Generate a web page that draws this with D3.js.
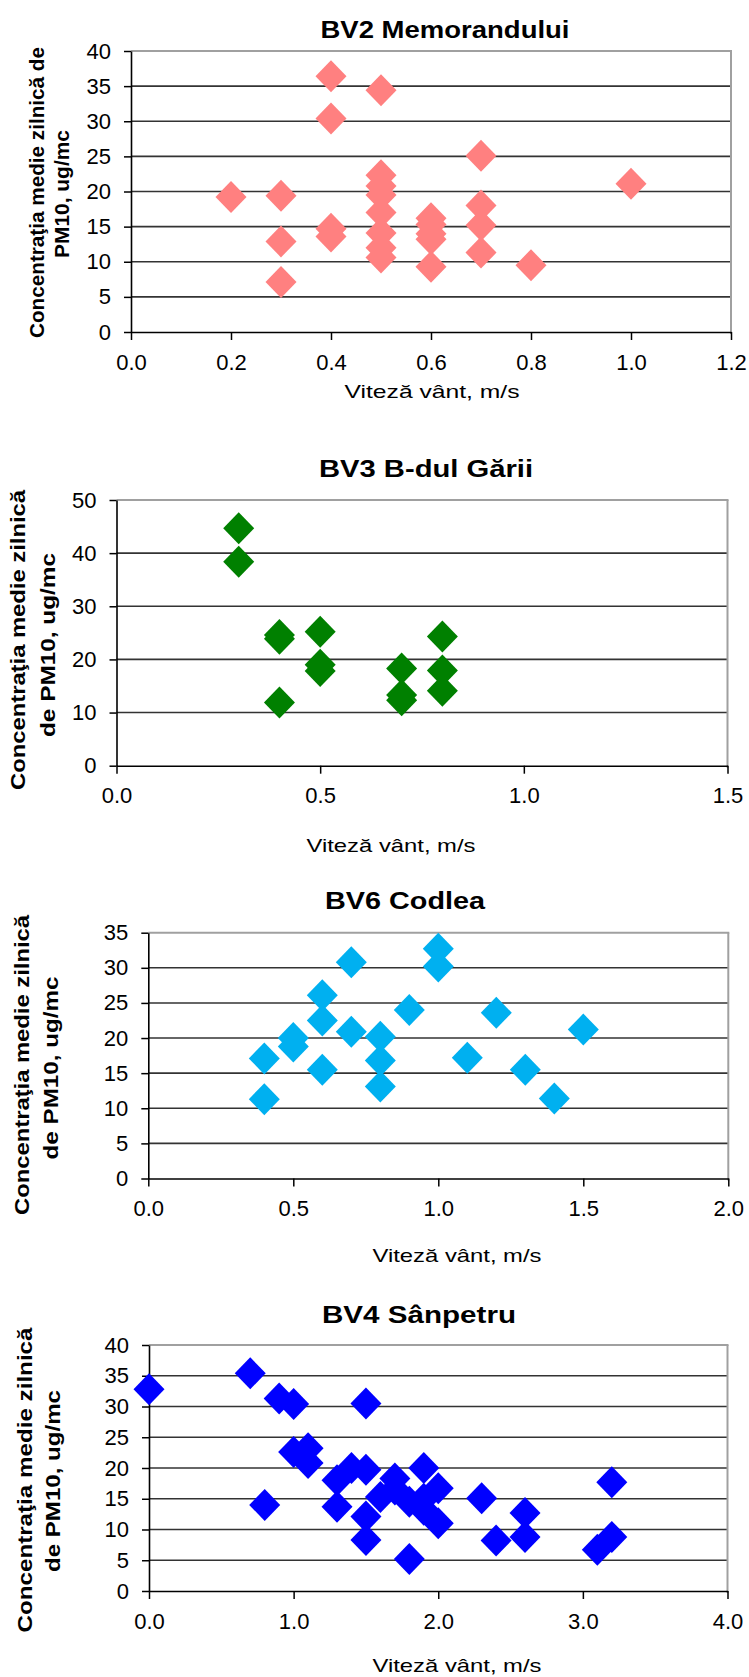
<!DOCTYPE html>
<html><head><meta charset="utf-8">
<script src="https://cdn.jsdelivr.net/npm/d3@7"></script>
<style>
body{margin:0;background:#fff}
svg{display:block;background:#fff}
text{font-family:"Liberation Sans",Arial,Helvetica,sans-serif;fill:#000}
</style>
</head><body>
<svg id="chart" width="749" height="1677"></svg>
<script>
// ---------- DATA ----------
const chartTitles = ["BV2 Memorandului", "BV3 B-dul Gării", "BV6 Codlea", "BV4 Sânpetru"];
const xAxisTitle = "Viteză vânt, m/s";
const yTitleBV2 = ["Concentraţia medie zilnică de", "PM10, ug/mc"];
const yTitleOther = ["Concentraţia medie zilnică", "de PM10, ug/mc"];

// BV2 Memorandului
const bv2Wind = [0.2, 0.3, 0.3, 0.3, 0.4, 0.4, 0.4, 0.4, 0.5, 0.5, 0.5, 0.5, 0.5, 0.5, 0.5, 0.5, 0.6, 0.6, 0.6, 0.6, 0.6, 0.7, 0.7, 0.7, 0.7, 0.8, 1.0];
const bv2PM10 = [19.2, 19.4, 12.9, 7.1, 36.4, 30.4, 14.7, 13.6, 34.4, 22.3, 20.8, 19.5, 17.0, 14.1, 12.0, 10.6, 16.2, 15.3, 14.0, 13.2, 9.3, 25.1, 18.0, 15.2, 11.3, 9.5, 21.1];
const bv2XTicks = [0.0, 0.2, 0.4, 0.6, 0.8, 1.0, 1.2];
const bv2YTicks = [0, 5, 10, 15, 20, 25, 30, 35, 40];

// BV3 B-dul Garii
const bv3Wind = [0.3, 0.3, 0.4, 0.4, 0.4, 0.5, 0.5, 0.5, 0.7, 0.7, 0.7, 0.8, 0.8, 0.8];
const bv3PM10 = [44.7, 38.4, 24.6, 23.9, 11.9, 25.2, 19.0, 17.8, 18.3, 13.3, 12.3, 24.3, 17.9, 14.1];
const bv3XTicks = [0.0, 0.5, 1.0, 1.5];
const bv3YTicks = [0, 10, 20, 30, 40, 50];

// BV6 Codlea
const bv6Wind = [0.4, 0.4, 0.5, 0.5, 0.6, 0.6, 0.6, 0.7, 0.7, 0.8, 0.8, 0.8, 0.9, 1.0, 1.0, 1.1, 1.2, 1.3, 1.4, 1.5];
const bv6PM10 = [17.1, 11.3, 20.0, 18.8, 26.1, 22.5, 15.5, 30.8, 20.9, 20.2, 16.8, 13.1, 24.0, 32.7, 30.2, 17.2, 23.6, 15.5, 11.4, 21.2];
const bv6XTicks = [0.0, 0.5, 1.0, 1.5, 2.0];
const bv6YTicks = [0, 5, 10, 15, 20, 25, 30, 35];

// BV4 Sanpetru
const bv4Wind = [0.0, 0.7, 0.8, 0.9, 1.0, 1.0, 1.1, 1.1, 1.3, 1.3, 1.4, 1.5, 1.5, 1.5, 1.5, 1.6, 1.7, 1.7, 1.8, 1.8, 1.9, 1.9, 1.9, 2.0, 2.0, 2.3, 2.4, 2.6, 2.6, 3.1, 3.2, 3.2];
const bv4PM10 = [32.8, 35.4, 14.0, 31.3, 30.4, 22.6, 23.2, 20.8, 18.0, 13.7, 20.0, 30.5, 19.7, 12.1, 8.3, 15.3, 18.3, 16.5, 14.5, 5.2, 20.0, 15.0, 13.2, 16.7, 11.0, 15.1, 8.2, 12.7, 8.8, 6.7, 17.7, 8.8];
const bv4XTicks = [0.0, 1.0, 2.0, 3.0, 4.0];
const bv4YTicks = [0, 5, 10, 15, 20, 25, 30, 35, 40];

const seriesColors = ["#FF8080", "#008000", "#00B0F0", "#0000FF"];

// ---------- LAYOUT ----------
const panels = [
  { title: chartTitles[0], wind: bv2Wind, pm: bv2PM10, xTicks: bv2XTicks, yTicks: bv2YTicks, color: seriesColors[0],
    box: {l: 131, r: 731, t: 51, b: 332},
    titlePos: {cx: 445, y: 38, len: 249},
    yTitle: [{t: yTitleBV2[0], x: 44, cy: 192.5, len: 291}, {t: yTitleBV2[1], x: 68.5, cy: 194, len: 128}],
    xTitlePos: {cx: 432, y: 398, len: 175} },
  { title: chartTitles[1], wind: bv3Wind, pm: bv3PM10, xTicks: bv3XTicks, yTicks: bv3YTicks, color: seriesColors[1],
    box: {l: 116.5, r: 727.5, t: 500, b: 765.7},
    titlePos: {cx: 426, y: 477, len: 214},
    yTitle: [{t: yTitleOther[0], x: 25, cy: 640, len: 300}, {t: yTitleOther[1], x: 55, cy: 645, len: 184}],
    xTitlePos: {cx: 391, y: 852, len: 169} },
  { title: chartTitles[2], wind: bv6Wind, pm: bv6PM10, xTicks: bv6XTicks, yTicks: bv6YTicks, color: seriesColors[2],
    box: {l: 148.3, r: 728.3, t: 932.7, b: 1178.5},
    titlePos: {cx: 405, y: 909, len: 160},
    yTitle: [{t: yTitleOther[0], x: 29, cy: 1065, len: 300}, {t: yTitleOther[1], x: 58, cy: 1068, len: 183}],
    xTitlePos: {cx: 457, y: 1262, len: 169} },
  { title: chartTitles[3], wind: bv4Wind, pm: bv4PM10, xTicks: bv4XTicks, yTicks: bv4YTicks, color: seriesColors[3],
    box: {l: 149, r: 727.5, t: 1345, b: 1591},
    titlePos: {cx: 419, y: 1323, len: 194},
    yTitle: [{t: yTitleOther[0], x: 31.5, cy: 1480, len: 305}, {t: yTitleOther[1], x: 59.5, cy: 1481, len: 182}],
    xTitlePos: {cx: 457, y: 1672, len: 169} }
];

const svg = d3.select("#chart");
svg.append("rect").attr("width", 749).attr("height", 1677).attr("fill", "#fff");

const HW = 15.5, HH = 16; // diamond half sizes
function diamond(cx, cy) {
  return `M${cx},${cy - HH}L${cx + HW},${cy}L${cx},${cy + HH}L${cx - HW},${cy}Z`;
}

panels.forEach(p => {
  const g = svg.append("g");
  const {l, r, t, b} = p.box;
  const x = d3.scaleLinear().domain([p.xTicks[0], p.xTicks[p.xTicks.length - 1]]).range([l, r]);
  const y = d3.scaleLinear().domain([p.yTicks[0], p.yTicks[p.yTicks.length - 1]]).range([b, t]);

  // gridlines
  g.selectAll("line.grid").data(p.yTicks.slice(1, -1)).join("line")
    .attr("class", "grid")
    .attr("x1", l).attr("x2", r)
    .attr("y1", d => y(d)).attr("y2", d => y(d))
    .attr("stroke", "#333").attr("stroke-width", 1.6);

  // top & right border
  g.append("line").attr("x1", l).attr("x2", r + 1).attr("y1", t).attr("y2", t)
    .attr("stroke", "#a0a0a0").attr("stroke-width", 2);
  g.append("line").attr("x1", r).attr("x2", r).attr("y1", t).attr("y2", b + 2)
    .attr("stroke", "#a0a0a0").attr("stroke-width", 2);

  // axes
  const yAxis = d3.axisLeft(y).tickValues(p.yTicks).tickSize(7).tickSizeOuter(0).tickPadding(13).tickFormat(d3.format("d"));
  const xAxis = d3.axisBottom(x).tickValues(p.xTicks).tickSize(8).tickSizeOuter(0).tickPadding(14).tickFormat(d3.format(".1f"));
  const ya = g.append("g").attr("transform", `translate(${l},0)`).call(yAxis);
  const xa = g.append("g").attr("transform", `translate(0,${b})`).call(xAxis);
  [ya, xa].forEach(a => {
    a.select(".domain").attr("stroke", "#000").attr("stroke-width", 1.6);
    a.selectAll(".tick line").attr("stroke", "#000").attr("stroke-width", 1.5);
    a.selectAll(".tick text").attr("font-size", 22).attr("fill", "#000")
      .attr("font-family", "'Liberation Sans', Arial, sans-serif");
  });

  // points
  const pts = p.wind.map((w, i) => [w, p.pm[i]]);
  g.selectAll("path.pt").data(pts).join("path")
    .attr("class", "pt")
    .attr("d", d => diamond(x(d[0]), y(d[1])))
    .attr("fill", p.color);

  // title
  g.append("text").attr("x", p.titlePos.cx).attr("y", p.titlePos.y)
    .attr("text-anchor", "middle").attr("font-size", 24).attr("font-weight", "bold")
    .attr("textLength", p.titlePos.len).attr("lengthAdjust", "spacingAndGlyphs")
    .text(p.title);

  // x title
  g.append("text").attr("x", p.xTitlePos.cx).attr("y", p.xTitlePos.y)
    .attr("text-anchor", "middle").attr("font-size", 18.5)
    .attr("textLength", p.xTitlePos.len).attr("lengthAdjust", "spacingAndGlyphs")
    .text(xAxisTitle);

  // y title (rotated)
  p.yTitle.forEach(line => {
    g.append("text")
      .attr("transform", `translate(${line.x},${line.cy}) rotate(-90)`)
      .attr("text-anchor", "middle").attr("font-size", 20).attr("font-weight", "bold")
      .attr("textLength", line.len).attr("lengthAdjust", "spacingAndGlyphs")
      .text(line.t);
  });
});
</script>
</body></html>
